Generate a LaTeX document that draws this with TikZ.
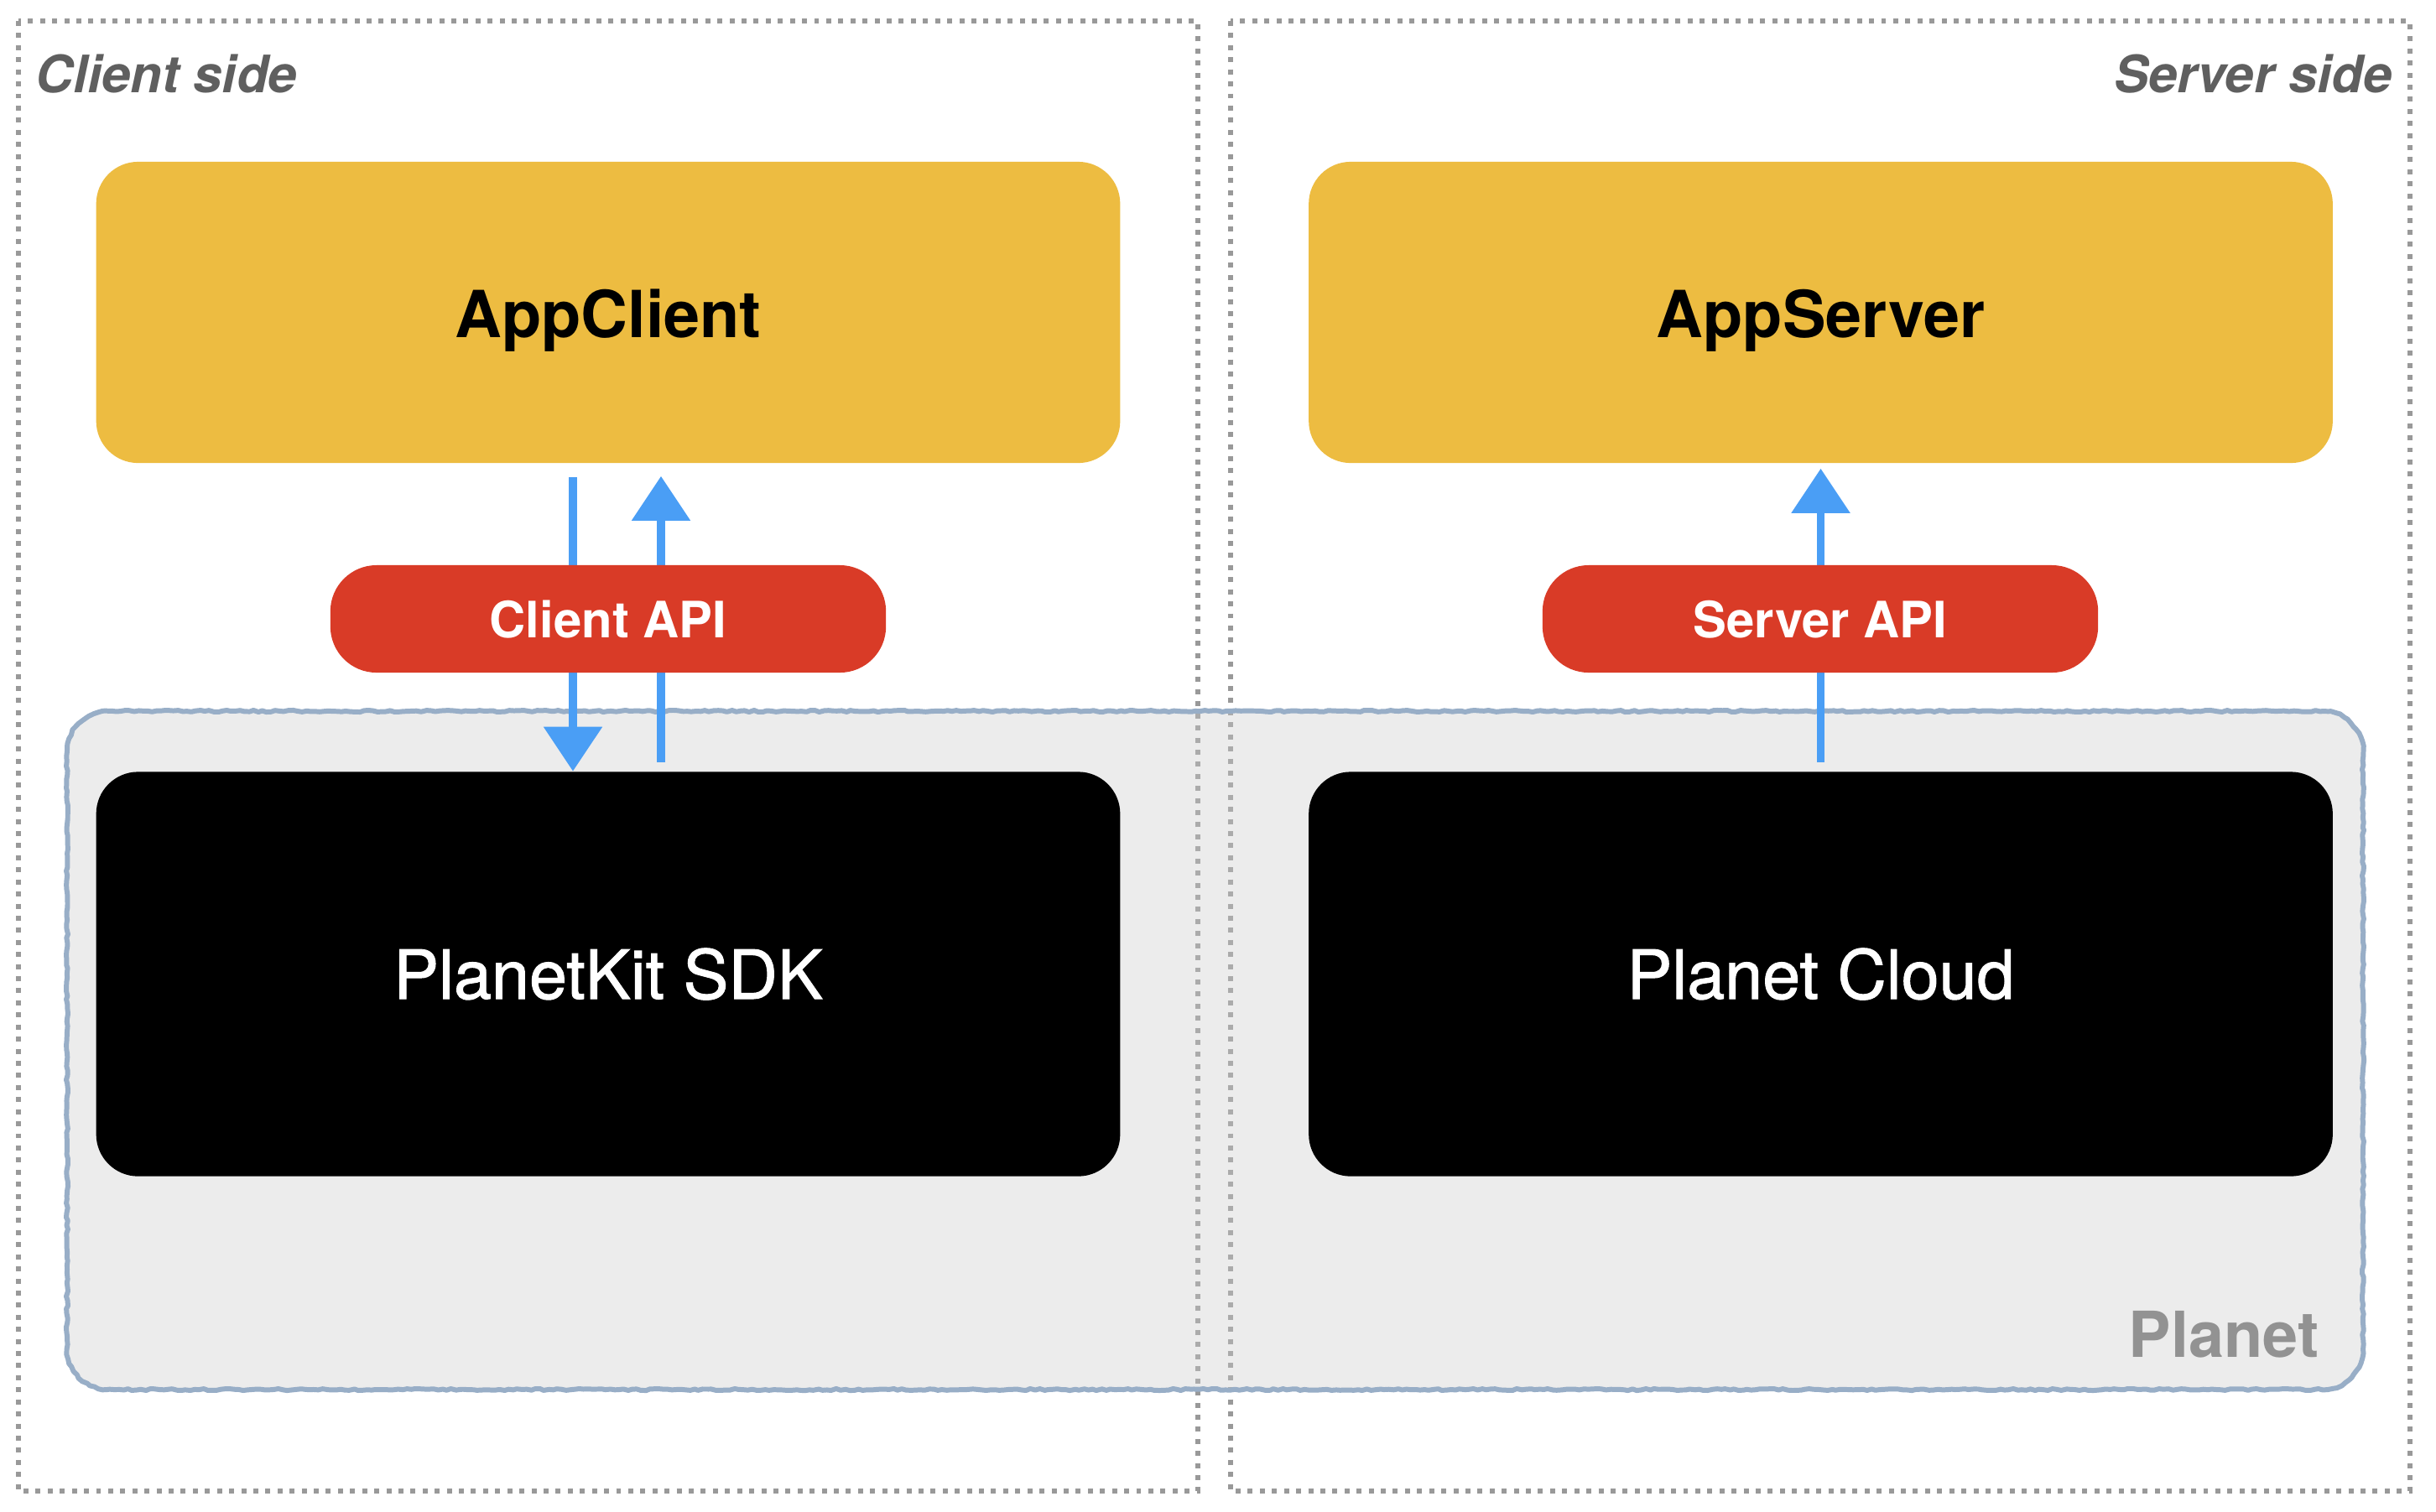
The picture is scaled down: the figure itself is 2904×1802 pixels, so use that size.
\documentclass[tikz,border=0pt]{standalone}
\usepackage{fontspec}
\setmainfont{TeX Gyre Heros}
\newfontfamily\medfont[FakeBold=1.2]{TeX Gyre Heros}
\usetikzlibrary{arrows.meta,decorations.pathmorphing}
\definecolor{ylw}{HTML}{EDBC41}
\definecolor{rd}{HTML}{D93B27}
\definecolor{dotc}{HTML}{999999}
\definecolor{pborder}{HTML}{98AEC7}
\definecolor{arrc}{HTML}{4A9EF5}
\definecolor{lbl}{HTML}{5F5F5F}
\definecolor{plbl}{HTML}{929292}
\definecolor{pfill}{HTML}{CCCCCC}
\begin{document}
\begin{tikzpicture}[x=0.01cm,y=-0.01cm,
  sidebox/.style={draw=dotc,line width=1.7pt,dash pattern=on 1.7pt off 2.4pt},
  appbox/.style={fill=ylw,rounded corners=0.5cm,inner sep=0pt,minimum width=12.2cm,minimum height=3.59cm},
  blkbox/.style={fill=black,rounded corners=0.5cm,inner sep=0pt,minimum width=12.2cm,minimum height=4.82cm},
  apibox/.style={fill=rd,rounded corners=0.55cm,inner sep=0pt,minimum width=6.62cm,minimum height=1.28cm},
  apptext/.style={font=\fontsize{22pt}{26pt}\selectfont\bfseries,text=black,inner sep=0pt,anchor=base},
  blktext/.style={font=\fontsize{23pt}{27pt}\medfont,text=white,inner sep=0pt,anchor=base},
  apitext/.style={font=\fontsize{17pt}{21pt}\selectfont\bfseries,text=white,inner sep=0pt,anchor=base},
  sidelbl/.style={font=\fontsize{17.5pt}{21pt}\selectfont\bfseries\itshape,text=lbl,inner sep=0pt},
  arr/.style={draw=arrc,line width=2.6pt,-{Triangle[width=0.68cm,length=0.53cm]}},
]
\pgfmathsetseed{7}
\useasboundingbox (0,0) rectangle (2904,1802);
\fill[white] (0,0) rectangle (2904,1802);

% side boxes
\draw[sidebox] (22,25) rectangle (1428,1778);
\draw[sidebox] (1467,25) rectangle (2873,1778);
\node[sidelbl,anchor=base west] (clientside) at (42,110) {Client side};
\node[sidelbl,anchor=base east] (serverside) at (2852,110) {Server side};

% Planet region
\def\planetpath{(128,848) -- (2769,848) .. controls (2795,848) and (2817,870) .. (2817,896)
  -- (2817,1609) .. controls (2817,1635) and (2795,1657) .. (2769,1657)
  -- (128,1657) .. controls (102,1657) and (80,1635) .. (80,1609)
  -- (80,896) .. controls (80,870) and (102,848) .. (128,848) -- cycle}
\fill[pfill,fill opacity=0.37] \planetpath;
\draw[pborder,line width=1.7pt,line join=round,decorate,
  decoration={random steps,segment length=1.5pt,amplitude=0.3pt}] \planetpath;
\node[font=\fontsize{21.5pt}{26pt}\selectfont\bfseries,text=plbl,anchor=base east,inner sep=0pt] (planet) at (2765,1618) {Planet};

% main boxes
\node[appbox] (appclient) at (725,372.5) {};
\node[appbox] (appserver) at (2170.5,372.5) {};
\node[blkbox] (sdk) at (725,1161.5) {};
\node[blkbox] (cloud) at (2170.5,1161.5) {};
\node[apptext] (appclienttext) at (725,402) {AppClient};
\node[apptext] (appservertext) at (2170.5,402) {AppServer};
\node[blktext] (sdktext) at (725,1191) {PlanetKit SDK};
\node[blktext] (cloudtext) at (2170.5,1191) {Planet Cloud};

% arrows
\coordinate (colA) at (683,0);
\coordinate (colB) at (788,0);
\draw[arr,shorten <=0.16cm] (appclient.south -| colA) -- (sdk.north -| colA);
\draw[arr,shorten <=0.11cm,shorten >=0.15cm] (sdk.north -| colB) -- (appclient.south -| colB);
\draw[arr,shorten <=0.11cm,shorten >=0.06cm] (cloud.north) -- (appserver.south);

% API pills
\node[apibox] (clientapi) at (725,738) {};
\node[apibox] (serverapi) at (2170,738) {};
\node[apitext] (clientapitext) at (725,760) {Client API};
\node[apitext] (serverapitext) at (2170,760) {Server API};
\end{tikzpicture}
\end{document}
